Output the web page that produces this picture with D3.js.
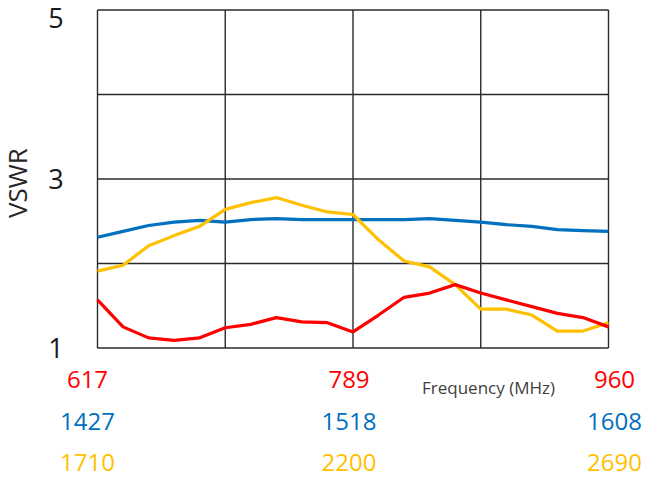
<!DOCTYPE html>
<html>
<head>
<meta charset="utf-8">
<script src="https://cdn.jsdelivr.net/npm/d3@7"></script>
<style>
  html, body { margin: 0; padding: 0; background: #fff; }
  svg { display: block; }
  text { font-family: "Open Sans", "Noto Sans", sans-serif; }
</style>
</head>
<body>
<svg id="chart" width="646" height="480"></svg>
<script>
// ---- data ----
const pointIndex = d3.range(21);
const redVSWR = [1.57,1.25,1.12,1.09,1.12,1.24,1.28,1.36,1.31,1.30,1.19,1.39,1.60,1.65,1.75,1.65,1.57,1.49,1.41,1.36,1.25];
const blueVSWR = [2.31,2.38,2.45,2.49,2.51,2.49,2.52,2.53,2.52,2.52,2.52,2.52,2.52,2.53,2.51,2.49,2.46,2.44,2.40,2.39,2.38];
const yellowVSWR = [1.91,1.98,2.21,2.33,2.44,2.64,2.72,2.78,2.69,2.61,2.58,2.28,2.03,1.96,1.75,1.46,1.46,1.39,1.20,1.20,1.30];
const yTickValues = [5, 3, 1];
const yGridValues = [5, 4, 3, 2, 1];
const xGridIndex = [0, 5, 10, 15, 20];
const labelIndex = [0, 10, 20];
const redLabels = ["617", "789", "960"];
const blueLabels = ["1427", "1518", "1608"];
const yellowLabels = ["1710", "2200", "2690"];
const yTitle = "VSWR";
const xTitle = "Frequency (MHz)";

// ---- layout ----
const plotL = 97.5, plotR = 608.5, plotT = 10, plotB = 348;
const colors = { red: "#FF0000", blue: "#0070C0", yellow: "#FFC000" };

const svg = d3.select("#chart");
const x = d3.scaleLinear().domain([0, 20]).range([plotL, plotR]);
const y = d3.scaleLinear().domain([1, 5]).range([plotB, plotT]);

// grid
const grid = svg.append("g");
grid.selectAll("line.h").data(yGridValues).enter().append("line")
  .attr("x1", plotL).attr("x2", plotR)
  .attr("y1", d => y(d)).attr("y2", d => y(d))
  .attr("stroke", "#2b2b2b").attr("stroke-width", 1.4);
grid.selectAll("line.v").data(xGridIndex).enter().append("line")
  .attr("x1", d => x(d)).attr("x2", d => x(d))
  .attr("y1", plotT).attr("y2", plotB)
  .attr("stroke", "#2b2b2b").attr("stroke-width", 1.4);

// lines
const line = d3.line().x((d, i) => x(pointIndex[i])).y(d => y(d));
[[blueVSWR, colors.blue], [yellowVSWR, colors.yellow], [redVSWR, colors.red]].forEach(([vals, c]) => {
  svg.append("path").datum(vals)
    .attr("d", line)
    .attr("fill", "none")
    .attr("stroke", c)
    .attr("stroke-width", 3.2)
    .attr("stroke-linejoin", "round");
});

// y tick labels
svg.selectAll("text.ytick").data(yTickValues).enter().append("text")
  .attr("x", 56)
  .attr("y", d => Math.min(Math.max(y(d), plotT + 8), plotB + 2))
  .attr("dy", "0.36em")
  .attr("text-anchor", "middle")
  .attr("font-size", 27)
  .attr("fill", "#1a1a1a")
  .text(d => d);

// y title
svg.append("text")
  .attr("transform", `translate(27, ${y(3) + 4}) rotate(-90)`)
  .attr("text-anchor", "middle")
  .attr("font-size", 26)
  .attr("fill", "#262626")
  .text(yTitle);

// bottom frequency labels
const colOffset = [-10, -4, 6];
const rows = [[redLabels, colors.red, 388], [blueLabels, colors.blue, 430], [yellowLabels, colors.yellow, 471]];
rows.forEach(([labels, c, baseY]) => {
  svg.append("g").selectAll("text").data(labels).enter().append("text")
    .attr("x", (d, i) => x(labelIndex[i]) + colOffset[i])
    .attr("y", baseY)
    .attr("text-anchor", "middle")
    .attr("font-size", 24)
    .attr("fill", c)
    .text(d => d);
});

// x title
svg.append("text")
  .attr("x", 422).attr("y", 394)
  .attr("font-size", 17)
  .attr("fill", "#404040")
  .text(xTitle);
</script>
</body>
</html>
